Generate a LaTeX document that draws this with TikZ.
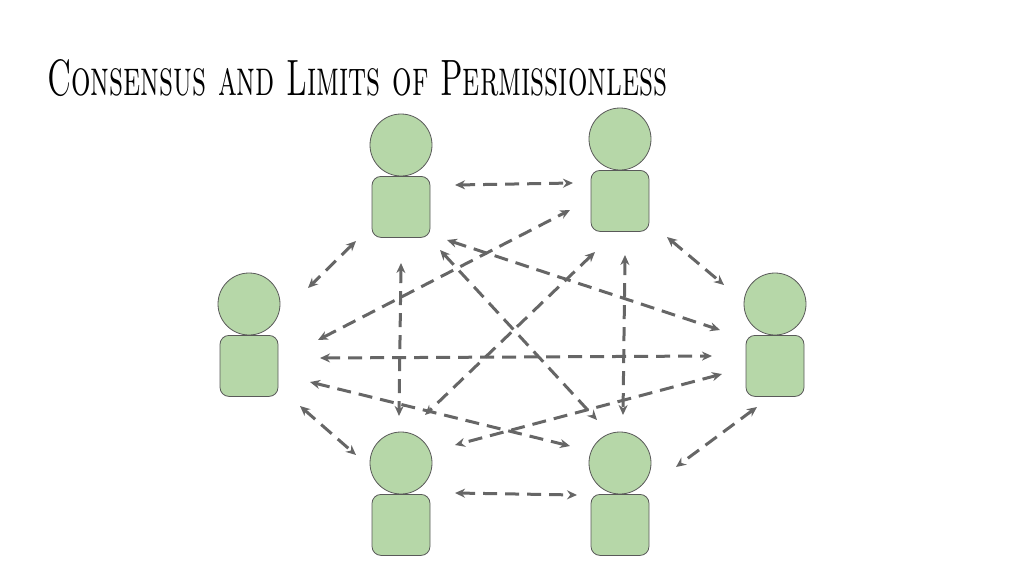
\documentclass[tikz,border=0pt]{standalone}
\usetikzlibrary{arrows.meta}
\definecolor{personfill}{HTML}{B6D7A8}
\definecolor{personline}{HTML}{595959}
\definecolor{linkgray}{HTML}{666666}
\tikzset{
	head/.style={circle, minimum size=62pt, inner sep=0pt, draw=personline, line width=0.8pt, fill=personfill},
	body/.style={rectangle, minimum width=58pt, minimum height=61pt, inner sep=0pt, draw=personline, line width=0.8pt, fill=personfill, rounded corners=9pt},
	link/.style={linkgray, line width=3pt, dash pattern=on 14pt off 8pt, {Stealth[length=10pt,width=9pt]}-{Stealth[length=10pt,width=9pt]}}
}
\begin{document}
\begin{tikzpicture}[x=1pt, y=-1pt]
	\useasboundingbox (0,0) rectangle (1024,576);
	% title
	\node[anchor=base west, inner sep=0pt] (title) at (47,95) {\resizebox{620pt}{36pt}{\textsc{Consensus and Limits of Permissionless}}};
	% people
	\foreach \n/\x/\y in {tl/401/176, tr/620/170, l/249/335, r/775/335, bl/401/494, br/620/494} {
		\node[body, anchor=north] (\n-body) at (\x,\y) {};
		\node[head] (\n-head) at (\x,\y-31) {};
	}
	% links
	\draw[link] (455,185) -- (573,183);
	\draw[link] (356,241) -- (308,288);
	\draw[link] (667,237) -- (724,285);
	\draw[link] (300,406) -- (356,455);
	\draw[link] (757,407) -- (676,467);
	\draw[link] (455,493) -- (577,495);
	\draw[link] (320,358) -- (712,356);
	\draw[link] (401,263) -- (399,416);
	\draw[link] (625,255) -- (623,415);
	\draw[link] (318,340) -- (570,210);
	\draw[link] (447,240) -- (720,330);
	\draw[link] (440,250) -- (597,420);
	\draw[link] (595,252) -- (425,415);
	\draw[link] (310,382) -- (570,446);
	\draw[link] (722,374) -- (455,445);
\end{tikzpicture}
\end{document}
